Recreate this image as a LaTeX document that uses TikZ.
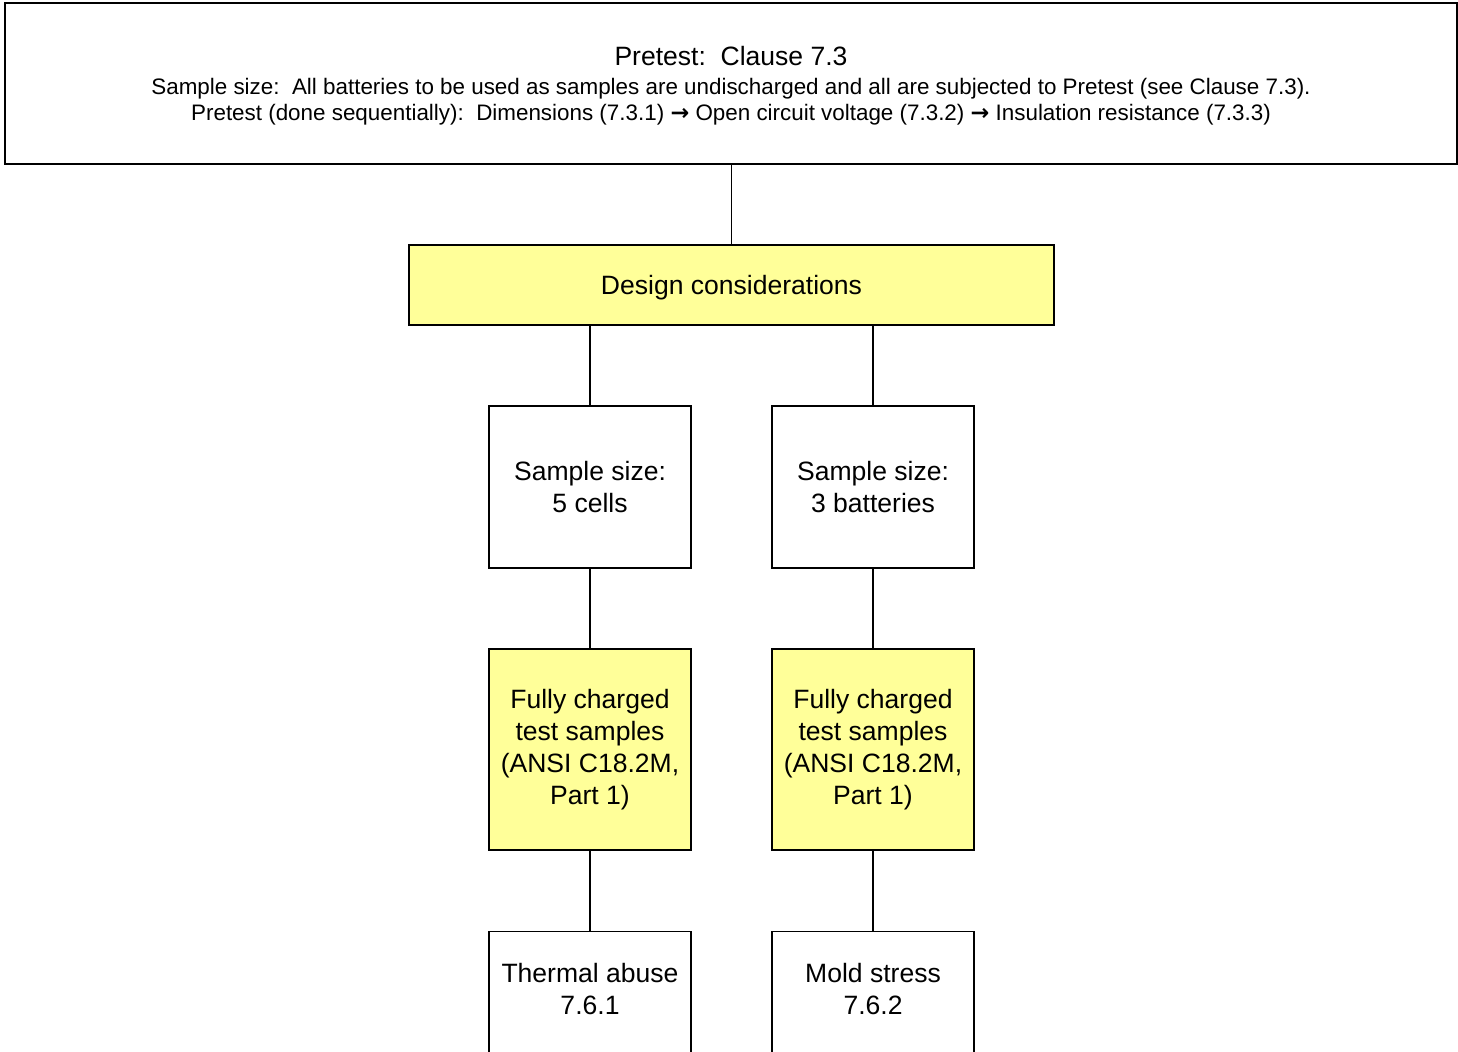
\documentclass[tikz,border=0pt]{standalone}
\usepackage{fontspec}
\setmainfont{Liberation Sans}
\newfontfamily\symfont{DejaVu Sans Bold}
\definecolor{yellowbox}{HTML}{FFFF99}

\begin{document}
\begin{tikzpicture}[
    x=0.02cm, y=-0.02cm,
    box/.style={rectangle, draw=black, line width=0.75pt, fill=white, align=center, inner sep=0pt, font=\fontsize{15.1}{18.3}\selectfont},
    hlbox/.style={box, fill=yellowbox},
    testbox/.style={box, anchor=north, inner ysep=18pt, text depth=2cm, minimum width=4.04cm},
    link/.style={draw=black, line width=0.75pt}
]
\useasboundingbox (0,0) rectangle (1458,1052);
\clip (0,0) rectangle (1458,1052);

% Pretest
\node[box, minimum width=29.04cm, minimum height=3.22cm, text depth=0pt, font=\fontsize{12.75}{15.3}\selectfont] (pretest) at (731,83.5)
  {{\fontsize{15.1}{18.3}\selectfont Pretest:\ \ Clause 7.3}\\[1.1pt]
   Sample size:\ \ All batteries to be used as samples are undischarged and all are subjected to Pretest (see Clause 7.3).\\
   Pretest (done sequentially):\ \ Dimensions (7.3.1) {\symfont →} Open circuit voltage (7.3.2) {\symfont →} Insulation resistance (7.3.3)};

% Design
\node[hlbox, minimum width=12.9cm, minimum height=1.6cm, text depth=0pt] (design) at (731.5,285) {Design considerations};

% Sample sizes
\node[box, minimum width=4.04cm, minimum height=3.24cm] (size5) at (590,487) {Sample size:\\5 cells};
\node[box, minimum width=4.04cm, minimum height=3.24cm] (size3) at (873,487) {Sample size:\\3 batteries};

% Charged samples
\node[hlbox, minimum width=4.04cm, minimum height=4.02cm] (charged5) at (590,749.5) {Fully charged\\test samples\\(ANSI C18.2M,\\Part 1)};
\node[hlbox, minimum width=4.04cm, minimum height=4.02cm] (charged3) at (873,749.5) {Fully charged\\test samples\\(ANSI C18.2M,\\Part 1)};

% Tests
\node[testbox] (thermal) at (590,931) {Thermal abuse\\7.6.1};
\node[testbox] (mold) at (873,931) {Mold stress\\7.6.2};

% Connections
\draw[link] (pretest.south -| design.north) -- (design.north);
\draw[link] (design.south -| size5.north) -- (size5.north);
\draw[link] (design.south -| size3.north) -- (size3.north);
\draw[link] (size5) -- (charged5);
\draw[link] (size3) -- (charged3);
\draw[link] (charged5) -- (thermal);
\draw[link] (charged3) -- (mold);

\end{tikzpicture}
\end{document}
